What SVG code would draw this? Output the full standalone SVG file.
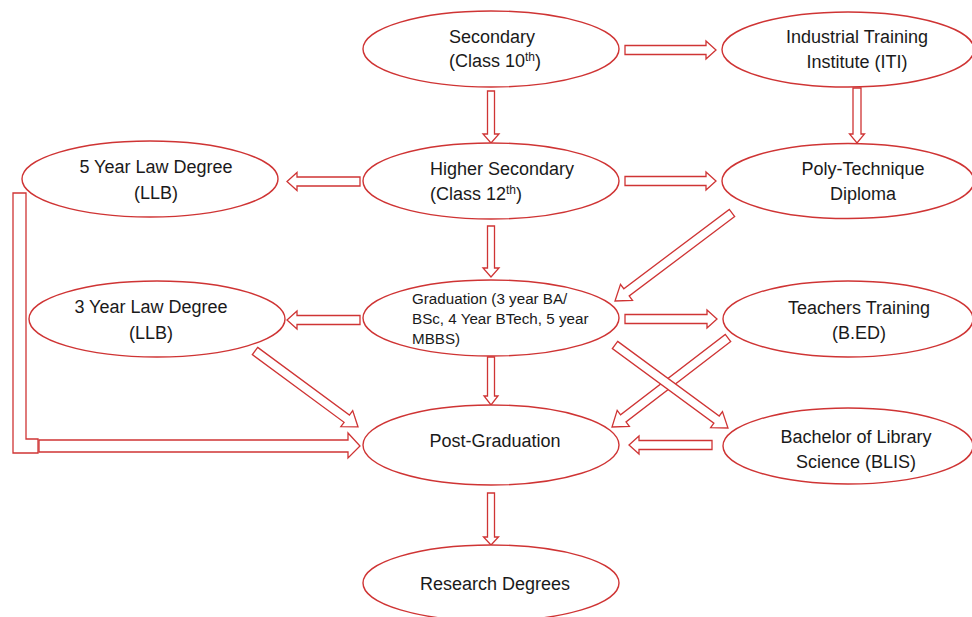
<svg xmlns="http://www.w3.org/2000/svg" width="972" height="617" viewBox="0 0 972 617">
<style>
.n{fill:#ffffff;stroke:#cf3434;stroke-width:1.4}
.a{fill:#ffffff;stroke:#cf3434;stroke-width:1.3;stroke-linejoin:miter}
.t{font-family:"Liberation Sans",Arial,sans-serif;font-size:18px;fill:#1a1a1a}
.s{font-family:"Liberation Sans",Arial,sans-serif;font-size:15.2px;fill:#1a1a1a}
.c{text-anchor:middle}
</style>
<rect width="972" height="617" fill="#ffffff"/>
<g id="connectors">
  <polygon class="a" points="625,45.5 706,45.5 706,41 716,50 706,59 706,54.5 625,54.5"/>
  <polygon class="a" points="625,176.5 706,176.5 706,172 716,181 706,190 706,185.5 625,185.5"/>
  <polygon class="a" points="625,314.5 707,314.5 707,310 717,319 707,328 707,323.5 625,323.5"/>
  <polygon class="a" points="360,177 297,177 297,172.5 287,181.5 297,190.5 297,186 360,186"/>
  <polygon class="a" points="360,315.5 297,315.5 297,311 287,320 297,329 297,324.5 360,324.5"/>
  <polygon class="a" points="712,440.5 639,440.5 639,436 629,445 639,454 639,449.5 712,449.5"/>
  <polygon class="a" points="487.5,91 494.5,91 494.5,134 499,134 491,143 483,134 487.5,134"/>
  <polygon class="a" points="487.5,226 494.5,226 494.5,268 499,268 491,277 483,268 487.5,268"/>
  <polygon class="a" points="487.5,357 494.5,357 494.5,396 498,396 491,405 484,396 487.5,396"/>
  <polygon class="a" points="487.5,493 494.5,493 494.5,537 498.5,537 491,545 483.5,537 487.5,537"/>
  <polygon class="a" points="853,88 861,88 861,134 864.5,134 857,143 849.5,134 853,134"/>
  <polygon class="a" transform="translate(732,213) rotate(143.06)" points="0,-4.5 132,-4.5 132,-10 146.4,0 132,10 132,4.5 0,4.5"/>
  <polygon class="a" transform="translate(728,338) rotate(142.5)" points="0,-4.5 132,-4.5 132,-10 146.2,0 132,10 132,4.5 0,4.5"/>
  <polygon class="a" transform="translate(615,345) rotate(36.3)" points="0,-4.5 126,-4.5 126,-10 140.2,0 126,10 126,4.5 0,4.5"/>
  <polygon class="a" transform="translate(255,351) rotate(36.4)" points="0,-4.5 114,-4.5 114,-10 128,0 114,10 114,4.5 0,4.5"/>
  <path class="a" d="M13,193 H26 V439 H38 V453 H13 Z"/>
  <polygon class="a" points="39,440 348,440 348,433 360,446 348,458 348,452 39,452"/>
</g>
<g id="secondary">
  <ellipse class="n" cx="491" cy="49" rx="128" ry="38"/>
  <text class="t" x="449" y="43">Secondary</text>
  <text class="t" x="449" y="67">(Class 10<tspan font-size="12" dy="-6">th</tspan><tspan dy="6">)</tspan></text>
</g>
<g id="iti">
  <ellipse class="n" cx="848" cy="49.5" rx="126" ry="37.5"/>
  <text class="t c" x="857" y="43">Industrial Training</text>
  <text class="t c" x="857" y="68">Institute (ITI)</text>
</g>
<g id="higher-secondary">
  <ellipse class="n" cx="491" cy="181" rx="128" ry="38"/>
  <text class="t" x="430" y="175">Higher Secondary</text>
  <text class="t" x="430" y="200">(Class 12<tspan font-size="12" dy="-6">th</tspan><tspan dy="6">)</tspan></text>
</g>
<g id="law5">
  <ellipse class="n" cx="150" cy="179" rx="128" ry="38"/>
  <text class="t c" x="156" y="173">5 Year Law Degree</text>
  <text class="t c" x="156" y="199">(LLB)</text>
</g>
<g id="poly">
  <ellipse class="n" cx="848" cy="181" rx="126" ry="37.5"/>
  <text class="t c" x="863" y="175">Poly-Technique</text>
  <text class="t c" x="863" y="200">Diploma</text>
</g>
<g id="graduation">
  <ellipse class="n" cx="491" cy="318" rx="128" ry="38"/>
  <text class="s" x="412" y="304">Graduation (3 year BA/</text>
  <text class="s" x="412" y="324">BSc, 4 Year BTech, 5 year</text>
  <text class="s" x="412" y="344">MBBS)</text>
</g>
<g id="law3">
  <ellipse class="n" cx="157" cy="319" rx="128" ry="38"/>
  <text class="t c" x="151" y="313">3 Year Law Degree</text>
  <text class="t c" x="151" y="339">(LLB)</text>
</g>
<g id="teachers">
  <ellipse class="n" cx="848" cy="319" rx="125" ry="38"/>
  <text class="t c" x="859" y="314">Teachers Training</text>
  <text class="t c" x="859" y="339">(B.ED)</text>
</g>
<g id="post-graduation">
  <ellipse class="n" cx="491" cy="445" rx="128" ry="40"/>
  <text class="t c" x="495" y="447">Post-Graduation</text>
</g>
<g id="blis">
  <ellipse class="n" cx="848" cy="446" rx="125" ry="38"/>
  <text class="t c" x="856" y="443">Bachelor of Library</text>
  <text class="t c" x="856" y="468">Science (BLIS)</text>
</g>
<g id="research">
  <ellipse class="n" cx="491" cy="583" rx="128" ry="38"/>
  <text class="t c" x="495" y="590">Research Degrees</text>
</g>
</svg>
